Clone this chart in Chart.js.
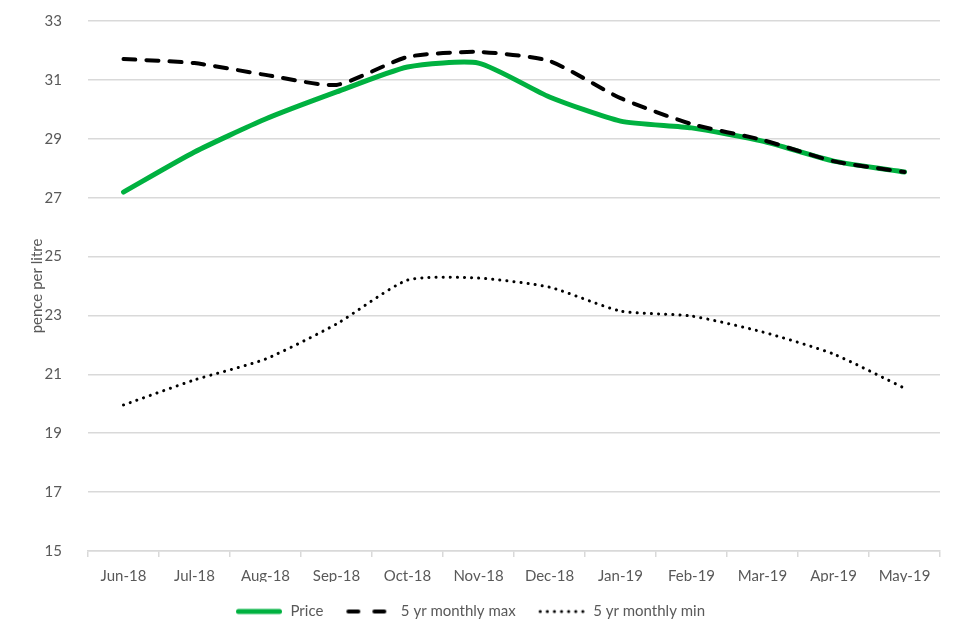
<!DOCTYPE html>
<html>
<head>
<meta charset="utf-8">
<script src="https://cdn.jsdelivr.net/npm/chart.js@4/dist/chart.umd.min.js"></script>
<style>
  html, body { margin: 0; padding: 0; background: #ffffff; }
  #wrap { width: 960px; height: 640px; position: relative; }
</style>
</head>
<body>
<div id="wrap"><canvas id="chart"></canvas></div>
<script>
////////////////////////////////////////////////////////////////////////
// Data
const months = ["Jun-18", "Jul-18", "Aug-18", "Sep-18", "Oct-18", "Nov-18",
                "Dec-18", "Jan-19", "Feb-19", "Mar-19", "Apr-19", "May-19"]
const price = [27.19, 28.55, 29.67, 30.59, 31.44, 31.57, 30.42, 29.6, 29.37, 28.92, 28.24, 27.87]
const fiveYrMax = [31.71, 31.57, 31.17, 30.83, 31.78, 31.95, 31.64, 30.38, 29.5, 28.96, 28.24, 27.87]
const fiveYrMin = [19.96, 20.81, 21.52, 22.71, 24.2, 24.27, 23.96, 23.15, 22.98, 22.44, 21.69, 20.53]
const yTicks = [15, 17, 19, 21, 23, 25, 27, 29, 31, 33]

////////////////////////////////////////////////////////////////////////
// Shared styles
const textColor = "#595959"
const gridColor = "#d9d9d9"
const fontFamily = "Lato, 'Open Sans', sans-serif"

Chart.defaults.font.family = fontFamily
Chart.defaults.font.size = 15
Chart.defaults.color = textColor

/**
 * Builds a small canvas showing a line sample, used as legend symbol.
 * @param {string} color Stroke colour
 * @param {number} width Line width
 * @param {number[]} dash Dash pattern
 * @returns Canvas element
 */
function legendSymbol(color, width, dash) {
    const c = document.createElement("canvas")
    c.width = 48
    c.height = 10
    const ctx = c.getContext("2d")
    ctx.strokeStyle = color
    ctx.lineWidth = width
    ctx.lineCap = "round"
    ctx.setLineDash(dash)
    ctx.beginPath()
    ctx.moveTo(width / 2 + 1, 5)
    ctx.lineTo(48 - width / 2 - 1, 5)
    ctx.stroke()
    return c
}

const config = {
    type: "line",
    data: {
        labels: months,
        datasets: [
            {
                label: "Price",
                data: price,
                borderColor: "#00b140",
                backgroundColor: "#00b140",
                borderWidth: 5,
                borderCapStyle: "round",
                pointRadius: 0,
                pointStyle: legendSymbol("#00b140", 5, []),
                tension: 0.2,
                fill: false,
                order: 2
            },
            {
                label: "5 yr monthly max",
                data: fiveYrMax,
                borderColor: "#000000",
                backgroundColor: "#000000",
                borderWidth: 4,
                borderDash: [12, 11],
                borderCapStyle: "round",
                pointRadius: 0,
                pointStyle: legendSymbol("#000000", 4, [10, 16]),
                tension: 0.2,
                fill: false,
                order: 1
            },
            {
                label: "5 yr monthly min",
                data: fiveYrMin,
                borderColor: "#000000",
                backgroundColor: "#000000",
                borderWidth: 3,
                borderDash: [0.1, 7],
                borderCapStyle: "round",
                pointRadius: 0,
                pointStyle: legendSymbol("#000000", 3, [0.1, 7]),
                tension: 0.2,
                fill: false,
                order: 0
            }
        ]
    },
    options: {
        responsive: true,
        maintainAspectRatio: false,
        animation: false,
        layout: {
            padding: { top: 21, right: 20, left: 0, bottom: 11 }
        },
        plugins: {
            tooltip: { enabled: false },
            legend: {
                position: "bottom",
                labels: {
                    usePointStyle: true,
                    pointStyleWidth: 48,
                    padding: 22,
                    color: textColor,
                    font: { size: 15 },
                    sort: (a, b) => a.datasetIndex - b.datasetIndex
                }
            }
        },
        scales: {
            x: {
                offset: true,
                afterFit: axis => { axis.height = 31 },
                grid: {
                    offset: true,
                    drawOnChartArea: false,
                    drawTicks: true,
                    tickLength: 6,
                    color: gridColor,
                    lineWidth: 1.5
                },
                border: { color: gridColor, width: 1.5 },
                ticks: { padding: 10, color: textColor, maxRotation: 0 }
            },
            y: {
                min: 15,
                max: 33,
                afterBuildTicks: axis => {
                    axis.ticks = yTicks.map(v => ({ value: v }))
                },
                afterFit: axis => {
                    axis.width = 88
                    axis.paddingTop = 0
                    axis.paddingBottom = 0
                },
                grid: {
                    color: gridColor,
                    lineWidth: 1.5,
                    drawTicks: false
                },
                border: { display: false },
                ticks: { padding: 26, color: textColor },
                title: {
                    display: true,
                    text: "pence per litre",
                    color: textColor,
                    font: { size: 15 },
                    padding: { top: 28, bottom: 0 }
                }
            }
        }
    }
}

new Chart(document.getElementById("chart"), config)
</script>
</body>
</html>
